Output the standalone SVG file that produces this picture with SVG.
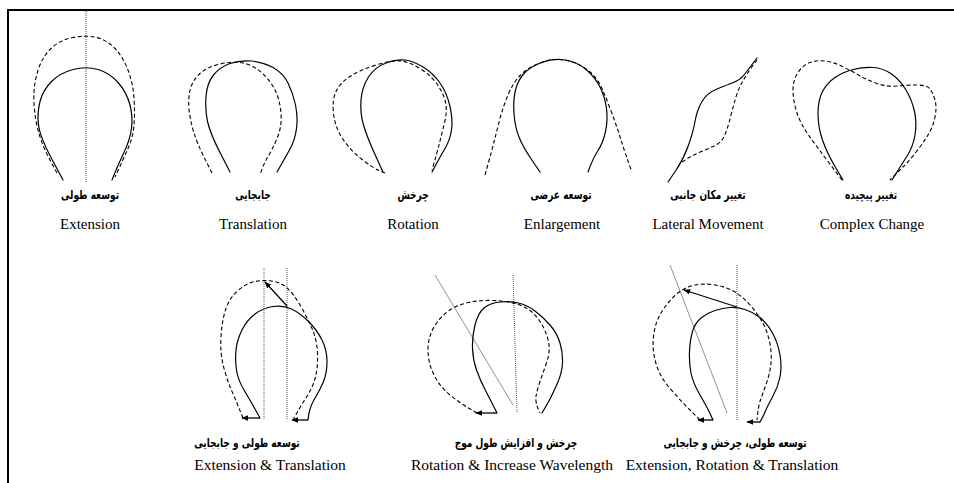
<svg xmlns="http://www.w3.org/2000/svg" width="954" height="483" viewBox="0 0 954 483">
<defs>
<marker id="ah" viewBox="0 0 10 10" refX="9" refY="5" markerWidth="7" markerHeight="7" markerUnits="userSpaceOnUse" orient="auto">
<path d="M0,1 L10,5 L0,9 Z" fill="#000"/>
</marker>
<style>
.s{fill:none;stroke:#000;stroke-width:1.2;stroke-linejoin:round;stroke-linecap:round}
.d{fill:none;stroke:#000;stroke-width:1.1;stroke-dasharray:4 2.5}
.dot{fill:none;stroke:#555;stroke-width:1;stroke-dasharray:1 1}
.g{fill:none;stroke:#777;stroke-width:0.8}
.ar{fill:none;stroke:#000;stroke-width:1.3;marker-end:url(#ah)}
.en{font-family:"Liberation Serif","Times New Roman",serif;font-size:15px;fill:#000;text-anchor:middle}
.en2{font-family:"Liberation Serif","Times New Roman",serif;font-size:15.5px;fill:#000;text-anchor:middle}
.fa{font-family:"DejaVu Sans","Noto Sans",sans-serif;font-weight:bold;font-size:12.5px;fill:#000;text-anchor:middle}
</style>
</defs>
<rect width="954" height="483" fill="#fff"/>
<g id="frame"><path d="M8,483 L8,10 L954,10" fill="none" stroke="#000" stroke-width="2"/></g>

<g id="extension">
<line class="dot" x1="86" y1="11" x2="86" y2="183"/>
<path class="d" d="M57,173 L50,160 Q43,147 39,133.5 Q35,120 34,103.5 Q33,87 37.5,72 Q42,57 51,48.5 Q60,40 73,37.5 Q86,35 96.5,37.5 Q107,40 115,48.5 Q123,57 128,70 Q133,83 134,98 Q135,113 134,125 Q133,137 128,148.5 Q123,160 115,177"/>
<path class="s" d="M63,180 L51.5,158.5 Q40,137 38.5,125 Q37,113 40,101.5 Q43,90 51.5,81.5 Q60,73 73,69.5 Q86,66 98,69.5 Q110,73 118.5,83 Q127,93 130,105 Q133,117 131.5,128.5 Q130,140 123.5,153.5 Q117,167 112,180"/>
<text class="fa" transform="translate(90,199) scale(0.72,1)">توسعه طولی</text>
<text class="en" x="90" y="229">Extension</text>
</g>

<g id="translation">
<path class="d" d="M212,173 L204.5,158 Q197,143 193.5,131.5 Q190,120 189,108.5 Q188,97 190.5,88.5 Q193,80 200,73.5 Q207,67 220,64 Q233,61 243,63 Q253,65 261.5,72.5 Q270,80 275,90 Q280,100 281,113.5 Q282,127 277,138.5 Q272,150 267.5,157.5 Q263,165 260,175"/>
<path class="s" d="M230,172 L220,152.5 Q210,133 207.5,121.5 Q205,110 206,96.5 Q207,83 213.5,75 Q220,67 230,63.5 Q240,60 251.5,61 Q263,62 273,67.5 Q283,73 288,83 Q293,93 295.5,105 Q298,117 296.5,128.5 Q295,140 290,149 Q285,158 277,172"/>
<text class="fa" transform="translate(253,199) scale(0.72,1)">جابجایی</text>
<text class="en" x="253" y="229">Translation</text>
</g>

<g id="rotation">
<path class="d" d="M385,173 L379,170.5 Q373,168 361.5,159 Q350,150 342.5,138.5 Q335,127 333.5,113.5 Q332,100 336,91.5 Q340,83 350,76.5 Q360,70 376,65 Q392,60 401,61 Q410,62 421.5,69.5 Q433,77 439,87 Q445,97 446,105 Q447,113 444.5,123 Q442,133 439.5,143 Q437,153 432,170"/>
<path class="s" d="M383,172 L375,154.5 Q367,137 363.5,125 Q360,113 361,100 Q362,87 368.5,77 Q375,67 386,63 Q397,59 405,60 Q413,61 423,67 Q433,73 440,83 Q447,93 450,106.5 Q453,120 451.5,130 Q450,140 445,148.5 Q440,157 432,172"/>
<text class="fa" transform="translate(413,199) scale(0.72,1)">چرخش</text>
<text class="en" x="413" y="229">Rotation</text>
</g>

<g id="enlargement">
<path class="d" d="M485,175 L488.5,162.5 Q492,150 494.5,140 Q497,130 500,118.5 Q503,107 508,95 Q513,83 520,75.5 Q527,68 540,63 Q553,58 565,60 Q577,62 587,69.5 Q597,77 602,88.5 Q607,100 612,113.5 Q617,127 621,140 Q625,153 632,172"/>
<path class="s" d="M540,172 L531.5,159.5 Q523,147 519,137 Q515,127 514,113.5 Q513,100 515.5,90 Q518,80 524,73.5 Q530,67 541.5,62.5 Q553,58 565,60 Q577,62 586,69.5 Q595,77 600,87 Q605,97 606.5,108.5 Q608,120 605.5,131.5 Q603,143 598,150.5 Q593,158 588,172"/>
<text class="fa" transform="translate(561,199) scale(0.72,1)">توسعه عرضی</text>
<text class="en" x="562" y="229">Enlargement</text>
</g>

<g id="lateral-movement">
<path class="d" d="M682,162 L687.5,158.5 Q693,155 701.5,151.5 Q710,148 716,145 Q722,142 725,134.5 Q728,127 730.5,117 Q733,107 735.5,98.5 Q738,90 741.5,83.5 Q745,77 749,71 Q753,65 757,60"/>
<path class="s" d="M668,182 L675.5,171 Q683,160 688,146.5 Q693,133 695,121.5 Q697,110 702,101.5 Q707,93 717,89 Q727,85 733.5,82.5 Q740,80 744,75 Q748,70 757,58"/>
<text class="fa" transform="translate(708,199) scale(0.72,1)">تغییر مکان جانبی</text>
<text class="en" x="708" y="229">Lateral Movement</text>
</g>

<g id="complex-change">
<path class="d" d="M842,180 L829.5,163.5 Q817,147 808.5,135 Q800,123 796.5,111.5 Q793,100 793,90 Q793,80 798,72.5 Q803,65 810,62.5 Q817,60 825,61 Q833,62 841.5,66 Q850,70 858.5,75 Q867,80 877,83.5 Q887,87 897,86 Q907,85 917,85 Q927,85 930,89 Q933,93 935,100 Q937,107 935,117 Q933,127 928,135 Q923,143 916.5,151.5 Q910,160 903.5,166.5 Q897,173 890,180"/>
<path class="s" d="M843,180 L835,166.5 Q827,153 822.5,140 Q818,127 818,113.5 Q818,100 822.5,91.5 Q827,83 835,77.5 Q843,72 853,69.5 Q863,67 873,67.5 Q883,68 891.5,74 Q900,80 906,90 Q912,100 914.5,111.5 Q917,123 915,135 Q913,147 906.5,157 Q900,167 892,180"/>
<text class="fa" transform="translate(871,199) scale(0.72,1)">تغییر پیچیده</text>
<text class="en" x="872" y="229">Complex Change</text>
</g>

<g id="extension-translation">
<line class="dot" x1="264" y1="268" x2="264" y2="420"/>
<line class="dot" x1="287" y1="268" x2="287" y2="420"/>
<path class="d" d="M243,418 L240,410.5 Q237,403 232,391.5 Q227,380 223.5,366.5 Q220,353 221,336.5 Q222,320 226,308.5 Q230,297 238.5,290 Q247,283 255,281.5 Q263,280 271.5,281 Q280,282 286.5,287.5 Q293,293 300,305 Q307,317 312,328.5 Q317,340 317.5,353.5 Q318,367 315.5,377 Q313,387 306.5,397 Q300,407 293,420"/>
<path class="s" d="M260,418 L255,409 Q250,400 244,390 Q238,380 236.5,370 Q235,360 236,350 Q237,340 242,330 Q247,320 255,314 Q263,308 273,306.5 Q283,305 291.5,309 Q300,313 308.5,321.5 Q317,330 322,340 Q327,350 327,361.5 Q327,373 323.5,381.5 Q320,390 314.5,399 Q309,408 308,420"/>
<text class="fa" transform="translate(247,447) scale(0.72,1)">توسعه طولی و جابجایی</text>
<text class="en2" x="270" y="470">Extension &amp; Translation</text>
</g>

<g id="rotation-wavelength">
<line class="g" x1="435" y1="275" x2="513" y2="405"/>
<line class="dot" x1="513" y1="275" x2="517" y2="413"/>
<path class="d" d="M477,413 L468.5,408 Q460,403 450,395 Q440,387 434,375 Q428,363 428,350 Q428,337 434,327 Q440,317 448.5,311 Q457,305 468.5,302.5 Q480,300 493.5,300.5 Q507,301 517,304 Q527,307 533.5,313.5 Q540,320 544,328.5 Q548,337 549,345 Q550,353 546.5,363 Q543,373 540,381.5 Q537,390 536,396.5 Q535,403 540,413"/>
<path class="s" d="M497,413 L494.5,408 Q492,403 486,391.5 Q480,380 476.5,370 Q473,360 472.5,348.5 Q472,337 475,325 Q478,313 484,308 Q490,303 500,302 Q510,301 518.5,303 Q527,305 535,311 Q543,317 550,325 Q557,333 560,343 Q563,353 562.5,363 Q562,373 557.5,383 Q553,393 550.5,398 Q548,403 542,413"/>
<text class="fa" transform="translate(516,447) scale(0.72,1)">چرخش و افزایش طول موج</text>
<text class="en2" x="512" y="470">Rotation &amp; Increase Wavelength</text>
</g>

<g id="extension-rotation-translation">
<line class="g" x1="670" y1="265" x2="727" y2="413"/>
<line class="dot" x1="737" y1="265" x2="737" y2="420"/>
<path class="d" d="M700,420 L690,410 Q680,400 670,388.5 Q660,377 656,363.5 Q652,350 653.5,336.5 Q655,323 661,313 Q667,303 675,295.5 Q683,288 693,285.5 Q703,283 715,285 Q727,287 735,292 Q743,297 750,305 Q757,313 762,321.5 Q767,330 769.5,341.5 Q772,353 771,363 Q770,373 766.5,383 Q763,393 760.5,400 Q758,407 757,420"/>
<path class="s" d="M713,420 L710,413.5 Q707,407 700,395 Q693,383 691,373 Q689,363 689.5,351.5 Q690,340 692.5,331.5 Q695,323 701,318 Q707,313 715,310.5 Q723,308 730,307.5 Q737,307 745,309.5 Q753,312 760,317.5 Q767,323 772.5,333 Q778,343 780,355 Q782,367 780,377 Q778,387 772.5,397 Q767,407 765,412 Q763,417 760,422"/>
<text class="fa" transform="translate(735,447) scale(0.72,1)">توسعه طولی، چرخش و جابجایی</text>
<text class="en2" x="732" y="470">Extension, Rotation &amp; Translation</text>
</g>

<g id="connectors">
<line class="ar" x1="260" y1="418" x2="242" y2="418"/>
<line class="ar" x1="308" y1="420" x2="292" y2="420"/>
<line class="ar" x1="287" y1="306" x2="265" y2="282"/>
<line class="ar" x1="497" y1="413" x2="476" y2="413"/>
<line class="ar" x1="713" y1="420" x2="698" y2="420"/>
<line class="ar" x1="760" y1="422" x2="747" y2="422"/>
<line class="ar" x1="737" y1="307" x2="684" y2="290"/>
</g>
</svg>
